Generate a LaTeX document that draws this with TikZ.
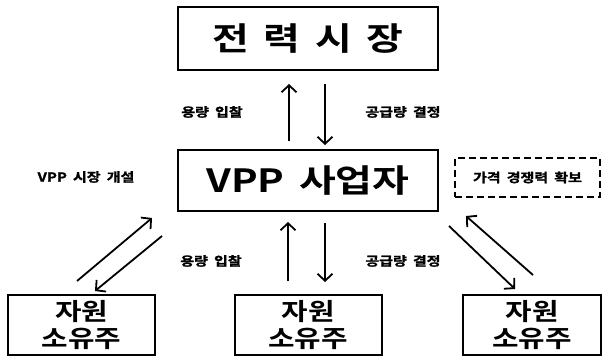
\documentclass[tikz,border=0pt]{standalone}
\usepackage{fontspec}
\usetikzlibrary{arrows.meta,calc}
\newfontfamily\krbig{Noto Sans CJK KR Bold}[FakeStretch=1.25, WordSpace=1.6]
\newfontfamily\krmid{Noto Sans CJK KR Bold}[FakeStretch=1.2]
\newfontfamily\krlab{Noto Sans CJK KR Bold}[FakeStretch=1.2, WordSpace=1.8, FakeBold=1.5]
\tikzset{
  box/.style={draw, line width=2pt, inner sep=0pt, align=center},
  bigtext/.style={font=\krbig\fontsize{32}{34}\selectfont},
  midtext/.style={font=\krmid\fontsize{24}{27}\selectfont},
  lab/.style={font=\krlab\fontsize{12.5}{14}\selectfont, inner sep=0pt},
  dbox/.style={draw, line width=2pt, dash pattern=on 7pt off 4pt, inner sep=0pt,
    font=\krlab\fontsize{12.5}{14}\selectfont},
  arr/.style={line width=1.8pt, -{Straight Barb[length=7pt,width=15pt]}}
}
\begin{document}
\begin{tikzpicture}[x=1pt,y=-1pt]
\useasboundingbox (0,0) rectangle (603,357);
\node[box, bigtext, minimum width=260pt, minimum height=63pt] (market) at (308,38.5) {전 력 시 장};
\node[box, bigtext, minimum width=260pt, minimum height=61pt] (vpp) at (308,180.5) {VPP 사업자};
\node[dbox, minimum width=145pt, minimum height=39pt] (price) at (527.5,177.5) {가격 경쟁력 확보};
\node[box, midtext, minimum width=147pt, minimum height=60pt] (own1) at (81.5,325) {자원\\소유주};
\node[box, midtext, minimum width=147pt, minimum height=60pt] (own2) at (308,325) {자원\\소유주};
\node[box, midtext, minimum width=138pt, minimum height=60pt] (own3) at (532,325) {자원\\소유주};
\node[lab] (l1) at (212,112) {용량 입찰};
\node[lab] (l2) at (403,112) {공급량 결정};
\node[lab] (l3) at (211,261) {용량 입찰};
\node[lab] (l4) at (403,261) {공급량 결정};
\node[lab] (l5) at (86,177) {VPP 시장 개설};
% top pair
\draw[arr] ($(vpp.north)+(-19,-8)$) -- ($(market.south)+(-19,13)$);
\draw[arr] ($(market.south)+(17,13)$) -- ($(vpp.north)+(17,-4)$);
% bottom centre pair
\draw[arr] ($(own2.north)+(-20,-13)$) -- ($(vpp.south)+(-20,10)$);
\draw[arr] ($(vpp.south)+(17,11)$) -- ($(own2.north)+(17,-12)$);
% left pair
\draw[arr] ($(own1.north)+(-4.5,-13)$) -- ($(vpp.south west)+(-25,6)$);
\draw[arr] ($(vpp.south west)+(-15,24)$) -- ($(own1.north)+(13.5,-3)$);
% right pair
\draw[arr] ($(own3.north)+(1,-19)$) -- ($(vpp.south east)+(27,4)$);
\draw[arr] ($(vpp.south east)+(10,14)$) -- ($(own3.north)+(-17,-5)$);
\end{tikzpicture}
\end{document}
